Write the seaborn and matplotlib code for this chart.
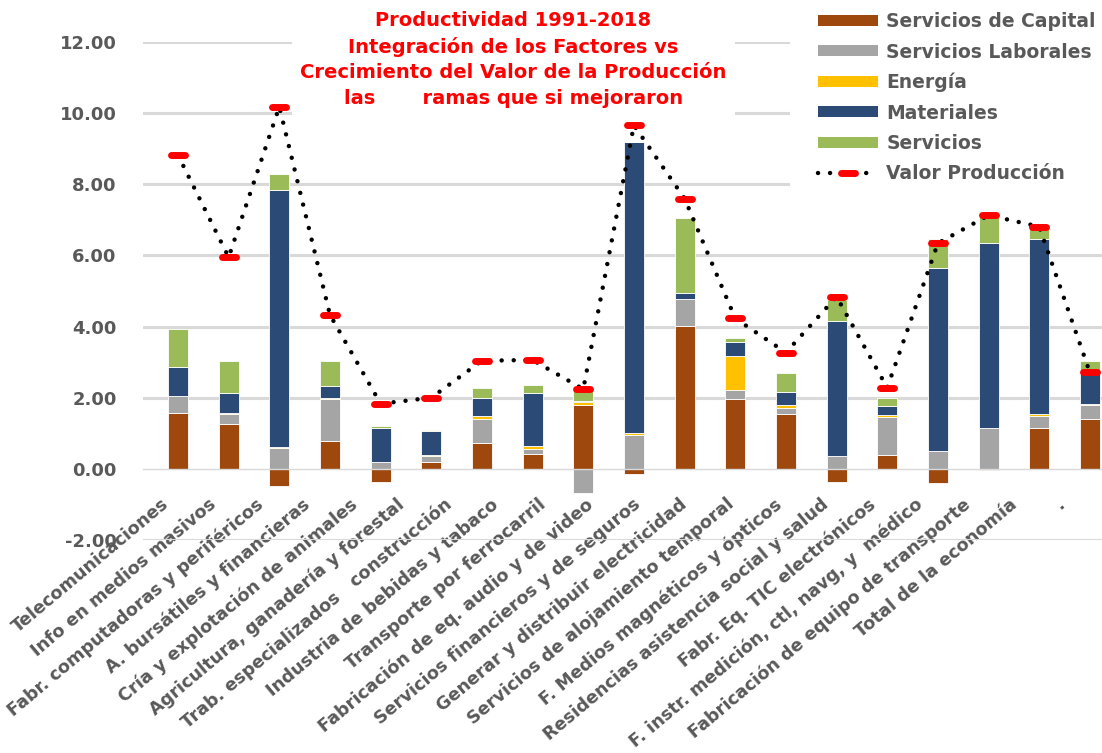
import numpy as np
import pandas as pd
import seaborn as sns
import matplotlib.pyplot as plt
from matplotlib.markers import MarkerStyle
from matplotlib.patches import Patch
from matplotlib.lines import Line2D

ramas = [
    'Telecomunicaciones', 'Info en medios masivos', 'Fabr. computadoras y periféricos',
    'A. bursátiles y financieras', 'Cría y explotación de animales',
    'Agricultura, ganadería y forestal', 'Trab. especializados   construcción',
    'Industria de bebidas y tabaco', 'Transporte por ferrocarril',
    'Fabricación de eq. audio y de video', 'Servicios financieros y de seguros',
    'Generar y distribuir electricidad', 'Servicios de alojamiento temporal',
    'F. Medios magnéticos y ópticos', 'Residencias asistencia social y salud',
    'Fabr. Eq. TIC electrónicos', 'F. instr. medición, ctl, navg, y  médico',
    'Fabricación de equipo de transporte', 'Total de la economía',
]
etiquetas = ramas + ['.']

capital    = [1.56, 1.25, -0.48, 0.79, -0.36, 0.19, 0.72, 0.42, 1.79, -0.14, 4.01, 1.97, 1.55, -0.38, 0.39, -0.40, -0.03, 1.14, 1.40]
laboral    = [0.49, 0.28, 0.58, 1.16, 0.19, 0.16, 0.68, 0.13, -0.68, 0.96, 0.76, 0.26, 0.15, 0.35, 1.08, 0.49, 1.14, 0.35, 0.40]
energia    = [0.00, 0.05, 0.03, 0.03, 0.01, 0.03, 0.09, 0.08, 0.10, 0.04, 0.01, 0.95, 0.09, 0.01, 0.05, 0.02, 0.02, 0.05, 0.03]
materiales = [0.82, 0.56, 7.23, 0.35, 0.96, 0.69, 0.51, 1.50, 0.03, 8.18, 0.16, 0.40, 0.38, 3.81, 0.25, 5.15, 5.20, 4.91, 0.86]
servicios  = [1.07, 0.89, 0.44, 0.70, 0.04, 0.03, 0.26, 0.23, 0.30, 0.00, 2.10, 0.09, 0.52, 0.58, 0.22, 0.80, 0.73, 0.38, 0.34]
valor      = [8.82, 5.95, 10.18, 4.33, 1.83, 2.00, 3.04, 3.06, 2.24, 9.66, 7.60, 4.23, 3.27, 4.84, 2.28, 6.34, 7.13, 6.81, 2.71]

componentes = ['Servicios de Capital', 'Servicios Laborales', 'Energía', 'Materiales', 'Servicios']
colores = ['#9E480E', '#A5A5A5', '#FFC000', '#2B4A76', '#9BBB59']

df = pd.DataFrame({
    'rama': ramas,
    'Servicios de Capital': capital,
    'Servicios Laborales': laboral,
    'Energía': energia,
    'Materiales': materiales,
    'Servicios': servicios,
    'Valor Producción': valor,
})

sns.set_style('white')
plt.rcParams['font.family'] = ['DejaVu Sans']
gris = '#595959'

fig, ax = plt.subplots(figsize=(11.02, 7.53), dpi=100)
fig.subplots_adjust(left=0.1298, right=1.0, bottom=0.2829, top=0.9442)

# barras apiladas: positivos hacia arriba, negativos hacia abajo (como Excel)
pos = np.zeros(len(ramas))
neg = np.zeros(len(ramas))
for nombre, color in zip(componentes, colores):
    vals = df[nombre].to_numpy()
    base = np.where(vals >= 0, pos, neg)
    sns.barplot(data=df, x='rama', y=nombre, order=ramas, color=color, saturation=1,
                width=0.395, errorbar=None, bottom=base, edgecolor='white',
                linewidth=0.6, ax=ax, zorder=2)
    pos += np.clip(vals, 0, None)
    neg += np.clip(vals, None, 0)

punto = MarkerStyle('_', capstyle='round')
estilo_linea = dict(color='black', lw=3.2, linestyle=(0, (0.01, 2.7)), dash_capstyle='round',
                    marker=punto, markersize=10, markeredgewidth=5,
                    markeredgecolor='#FF0000', markerfacecolor='#FF0000')
sns.lineplot(x=np.arange(len(ramas)), y=df['Valor Producción'], ax=ax, zorder=3, **estilo_linea)

ax.set_ylim(-2, 12)
ax.set_xlim(-0.69, 18.24)
ax.set_yticks(np.arange(-2, 13, 2))
ax.set_yticklabels([f'{v:.2f}' for v in np.arange(-2, 13, 2)])
ax.yaxis.grid(True, color='#D9D9D9', lw=2.2)
ax.get_ygridlines()[1].set_visible(False)
ax.set_axisbelow(True)
for s in ['top', 'right', 'left']:
    ax.spines[s].set_visible(False)
ax.spines['bottom'].set_position(('data', 0))
ax.spines['bottom'].set_color('#D9D9D9')
ax.spines['bottom'].set_linewidth(1)
ax.set_xlabel('')
ax.set_ylabel('')

# las etiquetas del original no caen justo bajo cada barra
ax.set_xticks(np.arange(len(etiquetas)) * 0.93 - 0.22)
ax.set_xticklabels(etiquetas, rotation=40, ha='right', va='center', rotation_mode='anchor')
ax.tick_params(axis='x', length=0, pad=24, labelsize=12.7, labelcolor=gris)
ax.tick_params(axis='y', length=0, pad=19, labelsize=13, labelcolor=gris)
for t in ax.get_xticklabels() + ax.get_yticklabels():
    t.set_fontweight('bold')

fig.text(0.466, 0.985,
         'Productividad 1991-2018\nIntegración de los Factores vs\n'
         'Crecimiento del Valor de la Producción\nlas       ramas que si mejoraron',
         ha='center', va='top', color='#FF0000', fontsize=14, fontweight='bold',
         linespacing=1.42, bbox=dict(facecolor='white', edgecolor='none', pad=6))

handles = [Patch(facecolor=c, edgecolor='none', label=n) for n, c in zip(componentes, colores)]
handles.append(Line2D([], [], label='Valor Producción', **estilo_linea))
leg = fig.legend(handles=handles, loc='upper left', bbox_to_anchor=(790 / 1102, 1.021),
                 frameon=True, facecolor='white', edgecolor='none', framealpha=1, fancybox=False,
                 borderpad=1.5, borderaxespad=0, handlelength=3.2, handleheight=0.53,
                 handletextpad=0.43, labelspacing=0.6, numpoints=1,
                 prop=dict(size=13.5, weight='bold'))
for t in leg.get_texts():
    t.set_color(gris)

fig.savefig('out.png', dpi=100)
